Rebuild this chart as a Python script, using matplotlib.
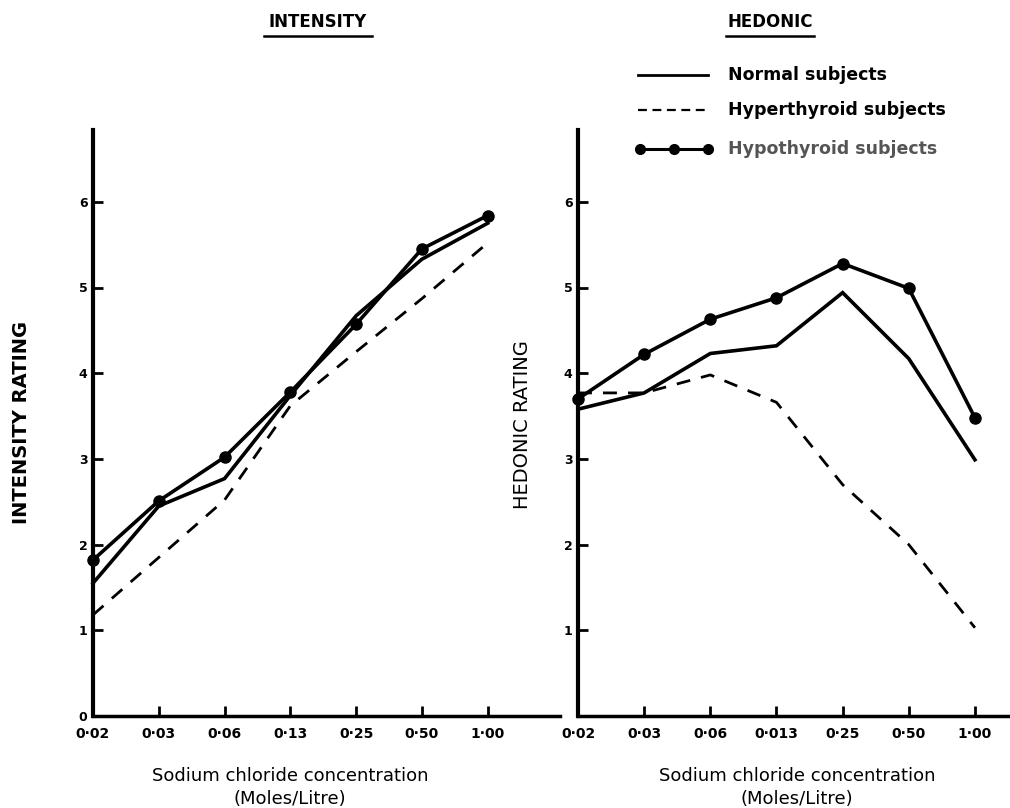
import matplotlib
matplotlib.use("Agg")
import matplotlib.pyplot as plt
from matplotlib.lines import Line2D

plt.rcParams['font.family'] = ['DejaVu Sans']

conc_left = ["0·02", "0·03", "0·06", "0·13", "0·25", "0·50", "1·00"]
conc_right = ["0·02", "0·03", "0·06", "0·013", "0·25", "0·50", "1·00"]

int_normal = [1.55, 2.45, 2.77, 3.74, 4.67, 5.33, 5.75]
int_hyper = [1.18, 1.85, 2.52, 3.62, 4.25, 4.87, 5.52]
int_hypo = [1.82, 2.51, 3.02, 3.78, 4.57, 5.45, 5.84]

hed_normal = [3.58, 3.77, 4.23, 4.32, 4.94, 4.17, 2.99]
hed_hyper = [3.77, 3.77, 3.98, 3.66, 2.70, 2.00, 1.03]
hed_hypo = [3.70, 4.22, 4.63, 4.88, 5.28, 4.99, 3.48]

W, H = 1010, 808
fig = plt.figure(figsize=(W / 100, H / 100), dpi=100)

def fx(px):
    return px / W

def fy(py):
    return 1 - py / H

y_bottom, y_top = 716, 130
ymax = (y_bottom - y_top) / 85.7

def make_ax(x0, x1, xmax, labels, show_zero):
    ax = fig.add_axes([fx(x0), fy(y_bottom), fx(x1) - fx(x0), fy(y_top) - fy(y_bottom)])
    ax.set_xlim(0, xmax)
    ax.set_ylim(0, ymax)
    for s in ["top", "right"]:
        ax.spines[s].set_visible(False)
    ax.spines["left"].set_linewidth(3)
    ax.spines["bottom"].set_linewidth(2.5)
    ax.set_xticks(range(len(labels)))
    ax.set_xticklabels(labels, fontsize=10, fontweight="bold")
    yt = list(range(0, 7)) if show_zero else list(range(1, 7))
    ax.set_yticks(yt)
    ax.set_yticklabels([str(v) for v in yt], fontsize=9, fontweight="bold")
    ax.tick_params(axis="both", direction="in", length=7, width=2)
    ax.tick_params(axis="x", pad=8)
    ax.tick_params(axis="y", pad=4)
    ax.patch.set_alpha(0)
    return ax

axL = make_ax(93, 560, 7.1, conc_left, True)
axR = make_ax(578, 1008, 6.5, conc_right, False)

xs = list(range(7))
for ax, n, hy, ho in [(axL, int_normal, int_hyper, int_hypo),
                       (axR, hed_normal, hed_hyper, hed_hypo)]:
    ax.plot(xs, n, color="black", lw=2.6, solid_joinstyle="miter", clip_on=False)
    ax.plot(xs, hy, color="black", lw=2.0, ls=(0, (5, 4)), clip_on=False)
    ax.plot(xs, ho, color="black", lw=2.6, marker="o", ms=8, clip_on=False, zorder=5)

# titles with underline
for txt, cx, w in [("INTENSITY", 318, 108), ("HEDONIC", 770, 88)]:
    fig.text(fx(cx), fy(22), txt, ha="center", va="center", fontsize=12, fontweight="bold")
    fig.add_artist(Line2D([fx(cx - w / 2), fx(cx + w / 2)], [fy(36), fy(36)], color="black", lw=1.8))

# y labels
fig.text(fx(22), fy(422), "INTENSITY RATING", rotation=90, ha="center", va="center",
         fontsize=14, fontweight="bold")
fig.text(fx(522), fy(425), "HEDONIC RATING", rotation=90, ha="center", va="center",
         fontsize=14)

# x labels
for cx in [290, 797]:
    fig.text(fx(cx), fy(776), "Sodium chloride concentration", ha="center", va="center",
             fontsize=13)
    fig.text(fx(cx), fy(799), "(Moles/Litre)", ha="center", va="center", fontsize=13)

# legend
leg_rows = [("Normal subjects", dict(ls="-", lw=2.0), 75, "black"),
            ("Hyperthyroid subjects", dict(ls=(0, (4, 2.5)), lw=1.6), 110, "black"),
            ("Hypothyroid subjects", dict(ls="-", lw=2.2, marker="o", ms=7, markevery=[0, 1, 2]), 149, "#555555")]
for label, kw, py, tc in leg_rows:
    if "markevery" in kw:
        fig.add_artist(Line2D([fx(640), fx(674), fx(708)], [fy(py)] * 3, color="black", **kw))
    else:
        fig.add_artist(Line2D([fx(638), fx(708)], [fy(py), fy(py)], color="black", **kw))
    fig.text(fx(728), fy(py), label, ha="left", va="center", fontsize=12.5, fontweight="bold", color=tc)

fig.savefig("out.png", dpi=100)
